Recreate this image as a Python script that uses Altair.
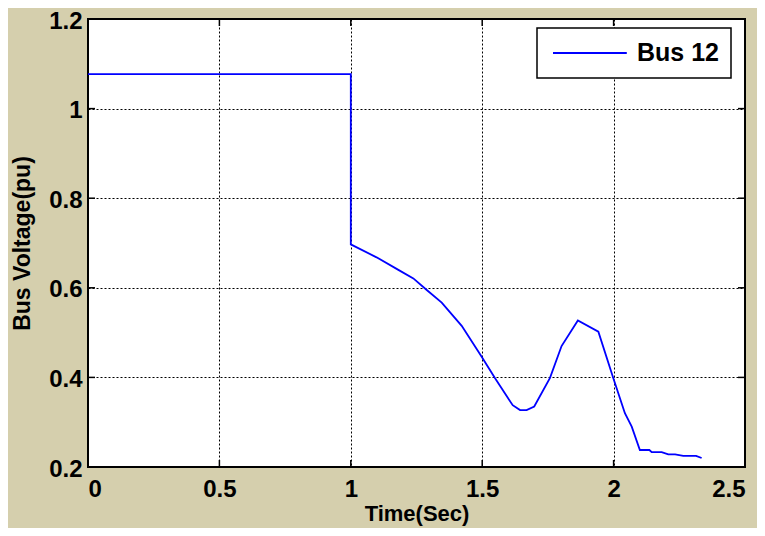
import altair as alt
import pandas as pd

# Data
time_s = [0.0, 1.0, 1.0, 1.098, 1.181, 1.238, 1.289, 1.346, 1.422, 1.498, 1.549,
          1.616, 1.644, 1.669, 1.698, 1.758, 1.802, 1.864, 1.942, 1.999, 2.043,
          2.069, 2.100, 2.136, 2.145, 2.183, 2.208, 2.234, 2.265, 2.314, 2.335]
voltage = [1.077, 1.077, 0.697, 0.668, 0.640, 0.621, 0.595, 0.567, 0.515, 0.446,
           0.398, 0.338, 0.327, 0.327, 0.335, 0.399, 0.470, 0.527, 0.502, 0.398,
           0.320, 0.290, 0.238, 0.238, 0.233, 0.233, 0.228, 0.228, 0.225, 0.225,
           0.220]
series_name = "Bus 12"
x_ticks = [0, 0.5, 1, 1.5, 2, 2.5]
y_ticks = [0.2, 0.4, 0.6, 0.8, 1.0, 1.2]

df = pd.DataFrame({"t": time_s, "v": voltage, "idx": list(range(len(time_s))),
                   "series": [series_name] * len(time_s)})
xt = pd.DataFrame({"xt": x_ticks})
yt = pd.DataFrame({"yt": y_ticks})

W, H = 657, 448
FONT = "Liberation Sans"

xscale = alt.Scale(domain=[0, 2.5], nice=False, zero=False)
yscale = alt.Scale(domain=[0.2, 1.2], nice=False, zero=False)

line = alt.Chart(df).mark_line(strokeWidth=1.8, color="#0000ff").encode(
    x=alt.X("t:Q", scale=xscale,
            axis=alt.Axis(title="Time(Sec)", values=x_ticks, format="~g",
                          tickSize=0, labelPadding=10, titlePadding=2,
                          titleFontSize=22)),
    y=alt.Y("v:Q", scale=yscale,
            axis=alt.Axis(title="Bus Voltage(pu)", values=y_ticks, format="~g",
                          tickSize=0, labelPadding=6, titlePadding=14,
                          labelOffset=2, titleFontSize=23)),
    order="idx:Q",
    color=alt.Color("series:N", scale=alt.Scale(range=["#0000ff"]),
                    legend=alt.Legend(title=None, orient="none", legendX=449, legendY=9,
                                      symbolType="M-0.75,0H5.4",
                                      symbolSize=576,
                                      symbolStrokeWidth=1.8, labelOffset=62,
                                      padding=12, fillColor="white",
                                      strokeColor="black",
                                      labelFontSize=25, labelFont=FONT,
                                      labelFontWeight="bold", labelColor="black")),
)

tick_len = 7
bx = alt.Chart(xt).mark_rule(color="black", strokeWidth=1.5).encode(
    x=alt.X("xt:Q", scale=xscale), y=alt.value(H), y2=alt.value(H - tick_len))
tx = alt.Chart(xt).mark_rule(color="black", strokeWidth=1.5).encode(
    x=alt.X("xt:Q", scale=xscale), y=alt.value(0), y2=alt.value(tick_len))
ly = alt.Chart(yt).mark_rule(color="black", strokeWidth=1.5).encode(
    y=alt.Y("yt:Q", scale=yscale), x=alt.value(0), x2=alt.value(tick_len))
ry = alt.Chart(yt).mark_rule(color="black", strokeWidth=1.5).encode(
    y=alt.Y("yt:Q", scale=yscale), x=alt.value(W), x2=alt.value(W - tick_len))

chart = alt.layer(bx, tx, ly, ry, line).properties(
    width=W, height=H,
    background="#d5cfad",
    padding={"left": 80, "top": 11, "right": 12, "bottom": 61},
    autosize=alt.AutoSizeParams(type="none"),
).configure_view(
    fill="white", stroke="black", strokeWidth=2,
).configure_axis(
    grid=True, gridColor="black", gridDash=[2, 2], gridWidth=1, gridOpacity=1,
    domain=False,
    labelFont=FONT, labelFontSize=24, labelFontWeight="bold", labelColor="black",
    titleFont=FONT, titleFontWeight="bold", titleColor="black",
).configure_legend(
    strokeWidth=1.5,
)

chart.save("out.html", embed_options={"renderer": "svg", "actions": False})
